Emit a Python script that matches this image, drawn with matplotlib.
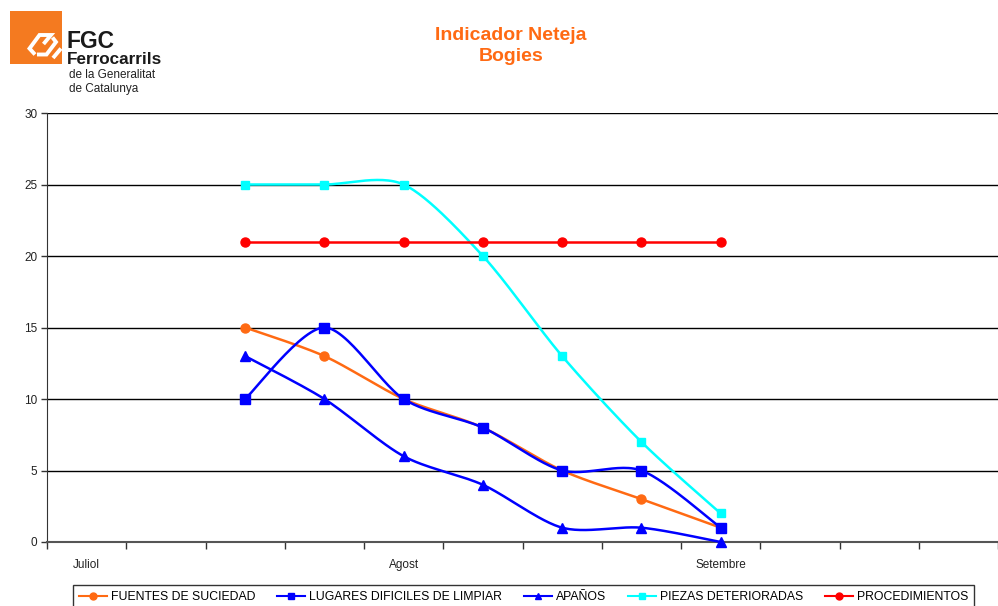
import numpy as np
import matplotlib
matplotlib.use("Agg")
import matplotlib.pyplot as plt
from matplotlib.patches import Rectangle
from matplotlib.lines import Line2D

plt.rcParams['font.family'] = ['Liberation Sans', 'DejaVu Sans']

# ---- data ----
categories = ["Juliol", "", "", "", "Agost", "", "", "", "Setembre", "", "", ""]
x_idx = [2, 3, 4, 5, 6, 7, 8]
fuentes = [15, 13, 10, 8, 5, 3, 1]
lugares = [10, 15, 10, 8, 5, 5, 1]
apanos = [13, 10, 6, 4, 1, 1, 0]
piezas = [25, 25, 25, 20, 13, 7, 2]
procedimientos = [21, 21, 21, 21, 21, 21, 21]
series_names = ["FUENTES DE SUCIEDAD", "LUGARES DIFICILES DE LIMPIAR", "APAÑOS",
                "PIEZAS DETERIORADAS", "PROCEDIMIENTOS"]
y_ticks = [0, 5, 10, 15, 20, 25, 30]


def smooth(xs, ys, n=30, k=7.0):
    xs = np.asarray(xs, float)
    ys = np.asarray(ys, float)
    P = np.column_stack([xs, ys])
    P = np.vstack([P[0], P, P[-1]])
    out = []
    t = np.linspace(0, 1, n)
    for i in range(1, len(P) - 2):
        p0, p1, p2, p3 = P[i - 1], P[i], P[i + 1], P[i + 2]
        c1 = p1 + (p2 - p0) / k
        c2 = p2 - (p3 - p1) / k
        seg = ((1 - t) ** 3)[:, None] * p1 + (3 * (1 - t) ** 2 * t)[:, None] * c1 \
            + (3 * (1 - t) * t ** 2)[:, None] * c2 + (t ** 3)[:, None] * p2
        out.append(seg if i == 1 else seg[1:])
    S = np.vstack(out)
    return S[:, 0], S[:, 1]


W, H = 998, 606
fig = plt.figure(figsize=(W / 100, H / 100), dpi=100)
ax = fig.add_axes([47 / W, 1 - 542 / H, (W - 47) / W, (542 - 113) / H])

styles = [
    (fuentes, "#FF6A13", "o", 6.5),
    (lugares, "#0000FF", "s", 7),
    (apanos, "#0000FF", "^", 6.5),
    (piezas, "#00FFFF", "s", 6),
    (procedimientos, "#FF0000", "o", 6.5),
]
handles = []
for (vals, col, mk, ms), name in zip(styles, series_names):
    sx, sy = smooth(x_idx, vals)
    ax.plot(sx, sy, color=col, lw=1.8, zorder=3, clip_on=False)
    ax.plot(x_idx, vals, linestyle="none", marker=mk, color=col, ms=ms, zorder=4, clip_on=False)
    handles.append(Line2D([], [], color=col, lw=1.5, marker=mk, ms=5))

ax.set_xlim(-0.5, len(categories) - 0.5)
ax.set_ylim(0, 30)
ax.set_yticks(y_ticks)
ax.set_yticklabels([str(v) for v in y_ticks], fontsize=8.5, color="#222222")
ax.set_xticks(np.arange(len(categories) + 1) - 0.5)
ax.set_xticklabels([])
ax.set_xticks(np.arange(len(categories)), minor=True)
ax.set_xticklabels(categories, minor=True, fontsize=8.5, color="#222222")
ax.tick_params(axis="x", which="minor", length=0, pad=12)
ax.tick_params(axis="x", which="major", length=5, width=1, color="#333333", direction="out")
ax.tick_params(axis="y", length=4, width=1, color="#333333", direction="out", pad=3)
ax.yaxis.grid(True, color="black", lw=1)
ax.set_axisbelow(True)
for s in ["top", "right"]:
    ax.spines[s].set_visible(False)
ax.spines["left"].set_color("#333333")
ax.spines["bottom"].set_color("#555555")
ax.spines["bottom"].set_linewidth(1.5)

# title
fig.text(511 / W, 1 - 46 / H, "Indicador Neteja\nBogies", ha="center", va="center",
         fontsize=14, fontweight="bold", color="#FF6A13", linespacing=1.38)

# logo
fig.patches.append(Rectangle((10 / W, 1 - 64 / H), 52 / W, 53 / H, transform=fig.transFigure,
                             facecolor="#F47A20", edgecolor="none"))
lx = lambda v: v / W
ly = lambda v: 1 - v / H
for pts in ([(35, 54.5), (29.5, 48.5), (39.5, 35), (51, 35), (43.5, 44)],
            [(37, 54.5), (46.5, 54.5), (56, 42), (52.5, 37.5)],
            [(53, 58), (61, 48.5)]):
    xs, ys = zip(*pts)
    fig.lines.append(Line2D([lx(v) for v in xs], [ly(v) for v in ys], transform=fig.transFigure,
                            color="white", lw=2.8, solid_joinstyle="miter", solid_capstyle="butt",
                            clip_on=False))
fig.text(67 / W, 1 - 41 / H, "FGC", fontsize=16.5, fontweight="bold", color="#1a1a1a", va="center")
fig.text(67 / W, 1 - 59 / H, "Ferrocarrils", fontsize=12.3, fontweight="bold", color="#1a1a1a", va="center")
fig.text(69 / W, 1 - 75 / H, "de la Generalitat", fontsize=8.5, color="#222222", va="center")
fig.text(69 / W, 1 - 89 / H, "de Catalunya", fontsize=8.5, color="#222222", va="center")

leg = fig.legend(handles, series_names, loc="upper center", bbox_to_anchor=(523.5 / W, 1 - 585 / H),
                 ncol=5, fontsize=8.8, frameon=True, fancybox=False, edgecolor="black",
                 handlelength=2.3, handletextpad=0.3, columnspacing=1.8, borderpad=0.5,
                 borderaxespad=0)
leg.get_frame().set_linewidth(1)

fig.savefig("out.png", dpi=100)
